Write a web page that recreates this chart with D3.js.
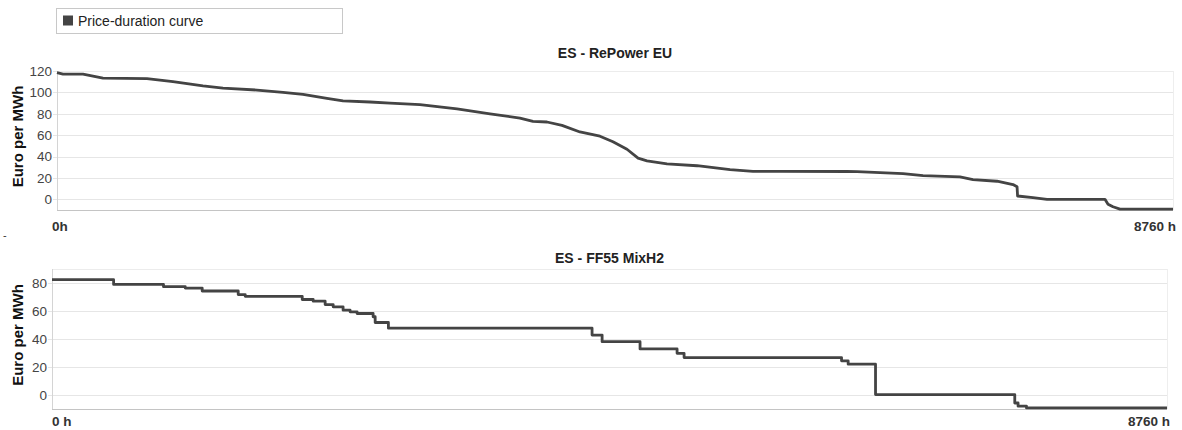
<!DOCTYPE html>
<html>
<head>
<meta charset="utf-8">
<script src="https://cdn.jsdelivr.net/npm/d3@7"></script>
<style>
  html, body { margin: 0; padding: 0; background: #fff; }
  svg { display: block; font-family: "Liberation Sans", Arial, sans-serif; }
</style>
</head>
<body>
<svg id="chart" width="1182" height="430"></svg>
<script>
// Price-duration curves, hours of the year sorted by price (EUR/MWh)
const seriesName = "Price-duration curve";
const yAxisTitle = "Euro per MWh";

// ES - RePower EU
const repowerTitle = "ES - RePower EU";
const repowerHours = [0, 47, 204, 361, 706, 910, 1146, 1303, 1570, 1774, 1931, 2119, 2245, 2457, 2614, 2849, 3140, 3399, 3634, 3736, 3846, 3964, 4105, 4262, 4364, 4474, 4561, 4631, 4788, 5024, 5283, 5463, 5675, 6201, 6280, 6641, 6798, 7088, 7190, 7379, 7504, 7536, 7540, 7661, 7771, 8226, 8250, 8289, 8344, 8760];
const repowerPrices = [118.4, 117, 117, 113.4, 112.8, 110, 106, 103.9, 102.2, 100, 98.1, 94.3, 92, 91, 90, 88.5, 84.6, 80, 76, 72.9, 72.3, 69.2, 63, 59, 53.8, 46.8, 38.5, 36, 33.2, 31.4, 27.7, 26.2, 26.2, 26, 25.8, 24, 22.2, 20.9, 18.5, 16.9, 13.8, 11.7, 3.1, 1.5, 0, 0, -4.6, -7, -9.2, -9.2];
const repowerTicks = [0, 20, 40, 60, 80, 100, 120];
const repowerXLabels = ["0h", "8760 h"];

// ES - FF55 MixH2 (stepwise)
const mixTitle = "ES - FF55 MixH2";
const mixHours = [0, 484, 876, 1047, 1180, 1463, 1518, 1966, 2052, 2146, 2209, 2287, 2342, 2397, 2523, 2539, 2643, 4243, 4322, 4620, 4911, 4966, 6203, 6255, 6470, 7564, 7590, 7656, 8760];
const mixPrices = [82.4, 79, 77.4, 76.4, 74.3, 71.7, 70.5, 68.2, 67, 64.6, 63, 60.6, 59.4, 58.2, 55.9, 51.8, 47.7, 42.8, 38.1, 32.9, 29.8, 26.7, 24.4, 22, 0.3, -5.7, -8, -9.2, -9.2];
const mixTicks = [0, 20, 40, 60, 80];
const mixXLabels = ["0 h", "8760 h"];

const svg = d3.select("#chart");
const lineColor = "#444";

// legend
const legend = svg.append("g");
legend.append("rect").attr("x", 56.5).attr("y", 8.5).attr("width", 286).attr("height", 25)
  .attr("fill", "#fff").attr("stroke", "#c8c8c8");
legend.append("rect").attr("x", 63).attr("y", 15.5).attr("width", 10).attr("height", 10).attr("fill", lineColor);
legend.append("text").attr("x", 78).attr("y", 26).attr("font-size", 14).attr("fill", "#222").text(seriesName);

// stray mark at the left margin
svg.append("text").attr("x", 3).attr("y", 239).attr("font-size", 11).attr("fill", "#333").text("-");

function panel(cfg) {
  const x = d3.scaleLinear().domain([0, 8760]).range([cfg.left, cfg.right]);
  const y = d3.scaleLinear().domain(cfg.yDomain).range([cfg.bottom, cfg.top]);
  const g = svg.append("g");

  // gridlines
  g.append("g").selectAll("line").data(cfg.ticks).join("line")
    .attr("x1", cfg.left - 4).attr("x2", cfg.right)
    .attr("y1", d => Math.round(y(d)) + 0.5).attr("y2", d => Math.round(y(d)) + 0.5)
    .attr("stroke", "#e6e6e6");
  // top border
  g.append("line").attr("x1", cfg.left).attr("x2", cfg.right)
    .attr("y1", Math.round(cfg.top) + 0.5).attr("y2", Math.round(cfg.top) + 0.5).attr("stroke", "#ececec");
  // side borders
  g.append("line").attr("x1", cfg.left + 0.5).attr("x2", cfg.left + 0.5)
    .attr("y1", cfg.top).attr("y2", cfg.bottom).attr("stroke", "#d4d4d4");
  g.append("line").attr("x1", cfg.right + 0.5).attr("x2", cfg.right + 0.5)
    .attr("y1", cfg.top).attr("y2", cfg.bottom).attr("stroke", "#eeeeee");
  // bottom axis line
  g.append("line").attr("x1", cfg.left).attr("x2", cfg.right)
    .attr("y1", Math.round(cfg.bottom) + 0.5).attr("y2", Math.round(cfg.bottom) + 0.5).attr("stroke", "#c4c4c4");

  // y tick labels
  const yAxis = d3.axisLeft(y).tickValues(cfg.ticks).tickSize(0).tickPadding(5);
  const ya = g.append("g").attr("transform", `translate(${cfg.left},0)`).call(yAxis);
  ya.select(".domain").remove();
  ya.selectAll("text").attr("font-size", 13.5).attr("fill", "#444")
    .attr("font-family", "Liberation Sans, Arial, sans-serif");

  // x labels (first and last hour)
  g.append("text").attr("x", cfg.xStart).attr("y", cfg.xLabelY).attr("font-size", 13.5)
    .attr("font-weight", "bold").attr("fill", "#333").text(cfg.xLabels[0]);
  g.append("text").attr("x", cfg.xEnd).attr("y", cfg.xLabelY).attr("font-size", 13.5)
    .attr("text-anchor", "end").attr("font-weight", "bold").attr("fill", "#333").text(cfg.xLabels[1]);

  // title
  g.append("text").attr("x", (cfg.left + cfg.right) / 2).attr("y", cfg.titleY)
    .attr("text-anchor", "middle").attr("font-size", 14).attr("font-weight", "bold")
    .attr("fill", "#222").text(cfg.title);

  // y axis title
  g.append("text")
    .attr("transform", `translate(23,${(cfg.top + cfg.bottom) / 2 - 4}) rotate(-90)`)
    .attr("text-anchor", "middle").attr("font-size", 15).attr("font-weight", "bold")
    .attr("fill", "#111").text(yAxisTitle);

  // curve
  const pts = cfg.hours.map((h, i) => [h, cfg.values[i]]);
  const line = d3.line().x(d => x(d[0])).y(d => y(d[1])).curve(cfg.curve);
  g.append("path").datum(pts).attr("d", line).attr("fill", "none")
    .attr("stroke", lineColor).attr("stroke-width", 2.8).attr("stroke-linejoin", "round");
}

panel({
  left: 57, right: 1173, top: 71, bottom: 210, yDomain: [-10, 120],
  ticks: repowerTicks, hours: repowerHours, values: repowerPrices,
  title: repowerTitle, titleY: 58, xLabels: repowerXLabels, xLabelY: 231, xStart: 52, xEnd: 1176,
  curve: d3.curveLinear
});

panel({
  left: 52, right: 1167, top: 269, bottom: 409, yDomain: [-10, 90],
  ticks: mixTicks, hours: mixHours, values: mixPrices,
  title: mixTitle, titleY: 263, xLabels: mixXLabels, xLabelY: 426, xStart: 52, xEnd: 1170,
  curve: d3.curveStepAfter
});
</script>
</body>
</html>
